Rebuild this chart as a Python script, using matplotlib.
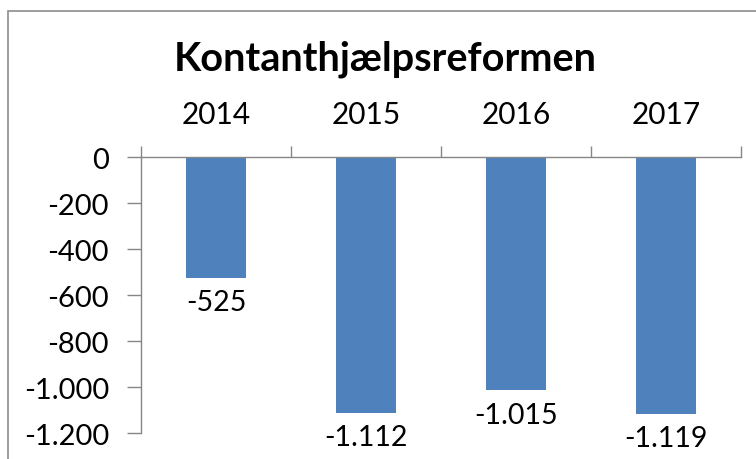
import numpy as np
import matplotlib
matplotlib.use("Agg")
import matplotlib.pyplot as plt
from matplotlib.patches import Rectangle
from matplotlib.ticker import FuncFormatter

years = ["2014", "2015", "2016", "2017"]
values = [-525, -1112, -1015, -1119]
yticks = [0, -200, -400, -600, -800, -1000, -1200]


def dk(v):
    # danish thousands separator
    s = "{:,.0f}".format(abs(v)).replace(",", ".")
    return ("-" if v < 0 else "") + s


plt.rcParams['font.family'] = ['Lato', 'DejaVu Sans']

fig = plt.figure(figsize=(7.56, 4.6), dpi=100)
ax = fig.add_axes([0.1865, 0.0565, 0.7937, 0.600])

x = np.arange(len(years))
bars = ax.bar(x, values, width=0.4, color="#4F81BD", zorder=2)

ax.set_xlim(-0.5, len(years) - 0.5)
ax.set_ylim(-1200, 0)
ax.set_yticks(yticks)
ax.yaxis.set_major_formatter(FuncFormatter(lambda v, p: dk(v)))

ax.xaxis.tick_top()
ax.set_xticks(x)
ax.set_xticklabels(years)
ax.set_xticks(np.arange(len(years) + 1) - 0.5, minor=True)
ax.tick_params(axis="x", which="major", length=0, pad=21, labelsize=21.5)
ax.tick_params(axis="x", which="minor", length=8, width=1, color="#868686", direction="out")
ax.tick_params(axis="y", length=10, width=1, color="#868686", labelsize=21, pad=13)

for s in ["right", "bottom"]:
    ax.spines[s].set_visible(False)
for s in ["left", "top"]:
    ax.spines[s].set_color("#868686")
    ax.spines[s].set_linewidth(1)

for xi, v in zip(x, values):
    ax.annotate(dk(v), (xi, v), xytext=(0, -8), textcoords="offset points",
                ha="center", va="top", fontsize=20.5, annotation_clip=False)

fig.text(0.51, 0.872, "Kontanthjælpsreformen", ha="center", va="center",
         fontsize=28.5, fontweight="bold")

fig.patches.append(Rectangle((8 / 756, -0.1), 1.2, 1.1 - 12 / 460 + 0.0,
                             transform=fig.transFigure, fill=False,
                             edgecolor="#8c8c8c", linewidth=1.2))

fig.savefig("out.png", dpi=100)
